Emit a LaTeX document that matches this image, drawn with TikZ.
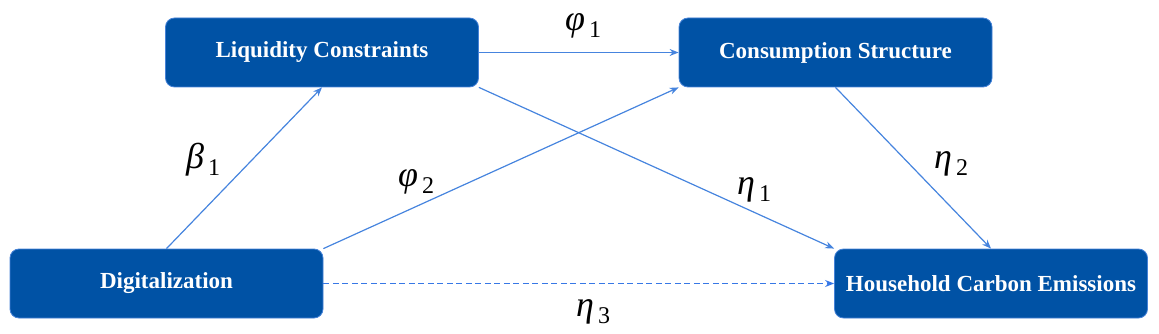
\documentclass[tikz,border=0pt]{standalone}
\usepackage{fontspec}
\setmainfont{Liberation Serif}
\usetikzlibrary{arrows.meta}
\definecolor{boxblue}{RGB}{0,82,165}
\definecolor{boxedge}{RGB}{70,130,215}
\definecolor{linkblue}{RGB}{70,132,222}
\definecolor{dashblue}{RGB}{55,120,230}
\newcommand{\glab}[2]{{\fontsize{36}{36}\selectfont\itshape #1}\hspace{4pt}\raisebox{-7pt}{\fontsize{24}{24}\selectfont #2}}
\tikzset{
  boxnode/.style={draw=boxedge, line width=0.8pt, fill=boxblue, rounded corners=9pt,
    minimum width=313pt, minimum height=69pt, inner sep=0pt, text=white,
    font=\bfseries\fontsize{23}{23}\selectfont},
  link/.style={draw=linkblue, line width=1.2pt, -{Stealth[length=9pt,width=7pt]}},
  lab/.style={anchor=base west, inner sep=0pt, text=black}
}
\begin{document}
\begin{tikzpicture}[x=1pt,y=-1pt]
\useasboundingbox (0,0) rectangle (1159,334);
\node[boxnode] (liq) at (322,52.5) {Liquidity Constraints};
\node[boxnode] (con) at (835.5,52.5) {Consumption Structure};
\node[boxnode] (dig) at (166.5,283.5) {Digitalization};
\node[boxnode] (hh) at (991,283.5) {Household Carbon Emissions};

\draw[link] (dig.north) -- (liq.south);
\draw[link] (liq.east) -- (con.west);
\draw[link] (liq.south east) -- (hh.north west);
\draw[link] (dig.north east) -- (con.south west);
\draw[link] (con.south) -- (hh.north);
\draw[link, draw=dashblue, line width=1.6pt, dash pattern=on 6pt off 3.5pt] (dig.east) -- (hh.west);

\node[lab] (lphi1) at (565,31) {\glab{φ}{1}};
\node[lab] (lbeta1) at (186,168) {\glab{β}{1}};
\node[lab] (lphi2) at (398,186) {\glab{φ}{2}};
\node[lab] (leta1) at (737,194) {\glab{η}{1}};
\node[lab] (leta2) at (934,168) {\glab{η}{2}};
\node[lab] (leta3) at (576,316) {\glab{η}{3}};
\end{tikzpicture}
\end{document}
